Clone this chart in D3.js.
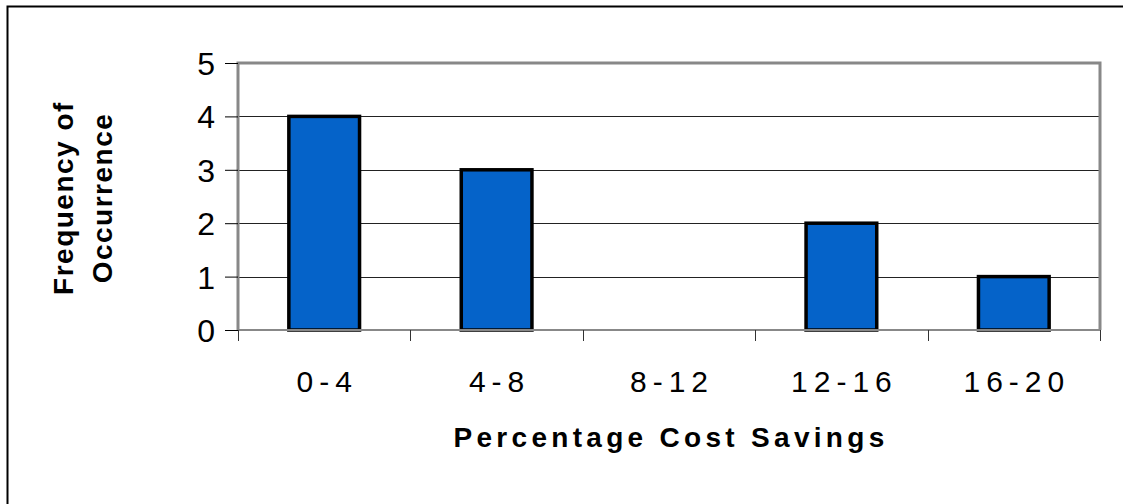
<!DOCTYPE html>
<html>
<head>
<meta charset="utf-8">
<script src="https://cdn.jsdelivr.net/npm/d3@7"></script>
<style>
    body { margin: 0; background: white; }
    svg { display: block; font-family: "Liberation Sans", Arial, sans-serif; }
</style>
</head>
<body>
<svg width="1123" height="504"></svg>
<script>
var categories = ["0-4", "4-8", "8-12", "12-16", "16-20"];
var frequencies = [4, 3, 0, 2, 1];
var yTicks = [0, 1, 2, 3, 4, 5];

var svg = d3.select("svg");

var plotLeft = 238, plotRight = 1100, plotTop = 63, plotBottom = 330;

var xScale = d3.scaleBand().domain(categories).range([plotLeft, plotRight]).paddingInner(0).paddingOuter(0);
var yScale = d3.scaleLinear().domain([0, 5]).range([plotBottom, plotTop]);

// Outer chart border (right and bottom run off the picture)
svg.append("rect")
    .attr("x", 7.5)
    .attr("y", 6.5)
    .attr("width", 1130)
    .attr("height", 510)
    .attr("fill", "white")
    .attr("stroke", "black")
    .attr("stroke-width", 2);

// Gridlines
svg.selectAll("line.grid")
    .data(yTicks.filter(d => d > 0 && d < 5))
    .enter()
    .append("line")
    .attr("class", "grid")
    .attr("x1", plotLeft)
    .attr("x2", plotRight)
    .attr("y1", d => Math.round(yScale(d)) + 0.5)
    .attr("y2", d => Math.round(yScale(d)) + 0.5)
    .style("stroke", "#222")
    .style("stroke-width", 1);

// Plot area border
svg.append("path")
    .attr("d", "M" + plotLeft + "," + plotBottom + "V" + plotTop + "H" + plotRight + "V" + plotBottom)
    .attr("fill", "none")
    .attr("stroke", "#888")
    .attr("stroke-width", 3);

// Bars
var barWidth = xScale.bandwidth() * 0.41;
svg.selectAll("rect.bar")
    .data(categories.map((c, i) => ({ cat: c, value: frequencies[i] })).filter(d => d.value > 0))
    .enter()
    .append("rect")
    .attr("class", "bar")
    .attr("x", d => xScale(d.cat) + xScale.bandwidth() / 2 - barWidth / 2)
    .attr("y", d => yScale(d.value))
    .attr("width", barWidth)
    .attr("height", d => yScale(0) - yScale(d.value))
    .attr("fill", "#0563C9")
    .attr("stroke", "black")
    .attr("stroke-width", 3.5);

// Y axis
var yAxis = d3.axisLeft(yScale).tickValues(yTicks).tickFormat(d3.format("d")).tickSize(13).tickPadding(10);
var yg = svg.append("g").attr("transform", "translate(" + plotLeft + ",0)").call(yAxis);
yg.select(".domain").remove();
yg.selectAll(".tick line").style("stroke", "black");
yg.selectAll(".tick text")
    .style("font-size", "32px")
    .style("fill", "black")
    .attr("dy", "0.36em");

// X axis
var xAxis = d3.axisBottom(xScale).tickSize(0).tickPadding(41);
var xg = svg.append("g").attr("transform", "translate(0," + plotBottom + ")").call(xAxis);
xg.select(".domain").attr("stroke", "#888").attr("stroke-width", 2).attr("d", "M" + plotLeft + ",0H" + plotRight);
xg.selectAll(".tick text")
    .style("font-size", "30px")
    .style("letter-spacing", "6px")
    .attr("dx", 3)
    .style("fill", "black");

// Category boundary ticks
var boundaries = categories.map(c => xScale(c)).concat([plotRight]);
svg.selectAll("line.xtick")
    .data(boundaries)
    .enter()
    .append("line")
    .attr("class", "xtick")
    .attr("x1", d => Math.round(d) + 0.5)
    .attr("x2", d => Math.round(d) + 0.5)
    .attr("y1", plotBottom)
    .attr("y2", plotBottom + 11)
    .style("stroke", "#333")
    .style("stroke-width", 1);

// Axis titles
svg.append("text")
    .attr("x", (plotLeft + plotRight) / 2 + 2)
    .attr("y", 447)
    .attr("text-anchor", "middle")
    .style("font-size", "28px")
    .style("font-weight", "bold")
    .style("letter-spacing", "4.3px")
    .text("Percentage Cost Savings");

var yTitle = svg.append("text")
    .attr("transform", "translate(73,198) rotate(-90)")
    .attr("text-anchor", "middle")
    .style("font-size", "28px")
    .style("font-weight", "bold")
    .style("letter-spacing", "1.5px");
yTitle.append("tspan").attr("x", 0).attr("y", 0).text("Frequency of");
yTitle.append("tspan").attr("x", 0).attr("y", 39).text("Occurrence");
</script>
</body>
</html>
